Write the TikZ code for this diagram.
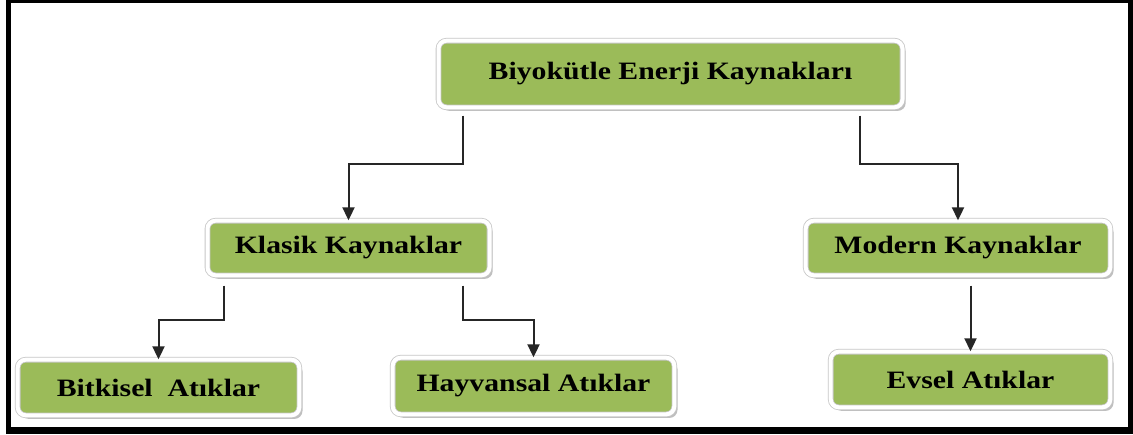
\documentclass[tikz,border=0pt]{standalone}
\usepackage{fontspec}
\setmainfont{Liberation Serif}[FakeStretch=1.19]
\usetikzlibrary{arrows.meta,shadows}
\definecolor{leafgreen}{RGB}{155,187,89}

\begin{document}
\begin{tikzpicture}
                [x=0.5pt,y=-0.5pt,
                box/.style={rounded corners=4pt,fill=leafgreen,draw=black!22,double=white,
                  double distance=2pt,line width=0.4pt,inner sep=0pt,
                  drop shadow={shadow xshift=1.6pt,shadow yshift=-1.8pt,fill=black!45,opacity=0.55},
                  font=\fontsize{12.5}{15}\selectfont\bfseries},
                link/.style={-{Triangle[width=6pt,length=6.5pt]},line width=1pt,draw=black!85}
                ]
            \useasboundingbox (0,0) rectangle (1133,434);
            \fill[black] (6,0) rectangle (1133,434);
            \fill[white] (11,3) rectangle (1128,427);
            \node[box,minimum width=232pt,minimum height=33.3pt] (root) at (670.5,74) {Biyokütle Enerji Kaynakları};
            \node[box,minimum width=141pt,minimum height=27.3pt] (klasik) at (348.5,248) {Klasik Kaynaklar};
            \node[box,minimum width=152.3pt,minimum height=27.3pt] (modern) at (958,248) {Modern Kaynaklar};
            \node[box,minimum width=140.8pt,minimum height=27.8pt] (bitkisel) at (158.5,387.5) {Bitkisel\ \ Atıklar};
            \node[box,minimum width=140.8pt,minimum height=28.3pt] (hayvansal) at (533.5,386) {Hayvansal Atıklar};
            \node[box,minimum width=139.8pt,minimum height=27.8pt] (evsel) at (970.5,379.5) {Evsel Atıklar};
            \draw[link,shorten <=4pt] ([xshift=-103.75pt]root.south) -- ++(0,56.5) -| (klasik.north);
            \draw[link,shorten <=4pt] ([xshift=94.75pt]root.south) -- ++(0,56.5) -| (modern.north);
            \draw[link,shorten <=5pt] ([xshift=-62.25pt]klasik.south) -- ++(0,44) -| (bitkisel.north);
            \draw[link,shorten <=5pt] ([xshift=57.25pt]klasik.south) -- ++(0,44) -| (hayvansal.north);
            \draw[link,shorten <=5pt] (evsel.north |- modern.south) -- (evsel.north);
            \end{tikzpicture}
\end{document}
